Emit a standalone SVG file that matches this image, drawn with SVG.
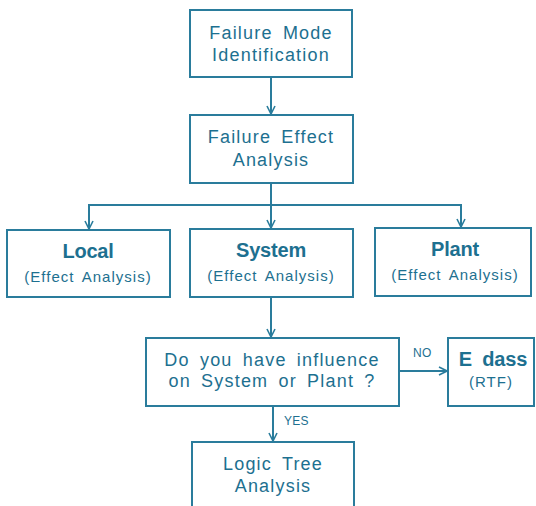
<svg xmlns="http://www.w3.org/2000/svg" width="536" height="506" viewBox="0 0 536 506">
<defs>
<style>
.box{fill:#fff;stroke:#2a7c9c;stroke-width:2}
.t{font-family:"Liberation Sans",Arial,sans-serif;font-size:18px;fill:#1d7090;text-anchor:middle;letter-spacing:1.2px;word-spacing:4px}
.b{font-family:"Liberation Sans",Arial,sans-serif;font-size:20px;font-weight:bold;fill:#1d7090;text-anchor:middle;letter-spacing:-0.2px}
.s{font-family:"Liberation Sans",Arial,sans-serif;font-size:15px;fill:#1d7090;text-anchor:middle;letter-spacing:1px;word-spacing:3px}
.l{font-family:"Liberation Sans",Arial,sans-serif;font-size:12px;fill:#1d7090;letter-spacing:0.3px}
.c{fill:none;stroke:#2a7c9c;stroke-width:2}
</style>
<marker id="ah" viewBox="0 0 10 10" refX="9" refY="5" markerWidth="10" markerHeight="10" markerUnits="userSpaceOnUse" orient="auto">
<path d="M1,1 L9,5 L1,9" fill="none" stroke="#2a7c9c" stroke-width="1.6"/>
</marker>
</defs>
<rect width="536" height="506" fill="#fff"/>
<g id="connectors">
<line class="c" x1="271" y1="78" x2="271" y2="114" marker-end="url(#ah)"/>
<line class="c" x1="271" y1="183" x2="271" y2="228" marker-end="url(#ah)"/>
<polyline class="c" points="89,228 89,205 461,205 461,227" marker-end="url(#ah)"/>
<line class="c" x1="89" y1="205" x2="89" y2="229" marker-end="url(#ah)"/>
<line class="c" x1="271" y1="297" x2="271" y2="337" marker-end="url(#ah)"/>
<line class="c" x1="399" y1="371" x2="447" y2="371" marker-end="url(#ah)"/>
<line class="c" x1="273" y1="406" x2="273" y2="441" marker-end="url(#ah)"/>
<text class="l" x="413" y="357">NO</text>
<text class="l" x="284" y="425">YES</text>
</g>
<g id="fmi">
<rect class="box" x="190" y="10" width="162" height="67"/>
<text class="t" x="271" y="39">Failure Mode</text>
<text class="t" x="271" y="61">Identification</text>
</g>
<g id="fea">
<rect class="box" x="190" y="115" width="163" height="68"/>
<text class="t" x="271" y="143">Failure Effect</text>
<text class="t" x="271" y="166">Analysis</text>
</g>
<g id="local">
<rect class="box" x="7" y="230" width="163" height="67"/>
<text class="b" x="88" y="258">Local</text>
<text class="s" x="88" y="282">(Effect Analysis)</text>
</g>
<g id="system">
<rect class="box" x="190" y="229" width="163" height="68"/>
<text class="b" x="271" y="257">System</text>
<text class="s" x="271" y="281">(Effect Analysis)</text>
</g>
<g id="plant">
<rect class="box" x="375" y="228" width="156" height="68"/>
<text class="b" x="455" y="256">Plant</text>
<text class="s" x="455" y="280">(Effect Analysis)</text>
</g>
<g id="decision">
<rect class="box" x="146" y="338" width="253" height="68"/>
<text class="t" x="272" y="366">Do you have influence</text>
<text class="t" x="272" y="387">on System or Plant ?</text>
</g>
<g id="eclass">
<rect class="box" x="448" y="338" width="86" height="68"/>
<text class="b" x="493" y="366" style="word-spacing:5px">E dass</text>
<text class="s" x="491" y="387">(RTF)</text>
</g>
<g id="logic">
<rect class="box" x="192" y="442" width="162" height="70"/>
<text class="t" x="273" y="470">Logic Tree</text>
<text class="t" x="273" y="492">Analysis</text>
</g>
</svg>
